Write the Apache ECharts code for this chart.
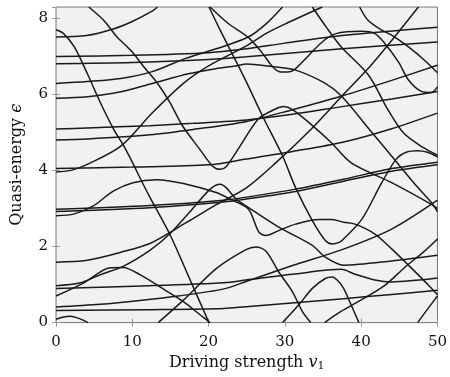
<!DOCTYPE html>
<html><head><meta charset="utf-8">
<script src="https://cdn.jsdelivr.net/npm/echarts@6/dist/echarts.min.js"></script>
<style>html,body{margin:0;padding:0;background:#fff}#c{width:450px;height:377px}</style>
</head><body><div id="c"></div>
<script>
// x-axis tick labels and y-axis tick labels
const xTicks = [0, 10, 20, 30, 40, 50];
const yTicks = [0, 2, 4, 6, 8];
const yMax = 8.3;

// traced quasi-energy curves: [driving strength, quasi-energy]
const L1a = [[0,7.51],[4,7.55],[7.6,7.73],[10,7.92],[12.6,8.19],[13.3,8.3]];
const L1b = [[13.4,0],[16.7,0.59],[21,1.42],[24.9,1.92],[26.2,1.99],[27.5,1.88],[29.2,1.33],[31,0.81],[32.3,0.29],[33.4,0]];
const L1c = [[33.6,8.3],[35.5,7.75],[37.4,7.25],[41,6.5],[43.5,5.6],[45.5,5.0],[48,4.62],[50,4.4]];
const A1 = [[0,7.7],[1,7.6],[2.4,7.25],[4.1,6.55],[5.85,5.77],[7.6,5.07],[8.9,4.64],[10.1,4.18],[11.1,3.77],[12.3,3.3],[14.9,2.33],[17.5,1.16],[20.05,0]];
const A2 = [[20.05,8.3],[21.5,7.7],[23.4,6.95],[24.9,6.35],[27.1,5.42],[29.7,4.38],[31.4,3.55],[33.6,2.68],[35.3,2.16],[36.2,2.07],[37.1,2.11],[37.7,2.2],[40.1,2.72],[42.7,3.68],[44.6,4.3],[45.9,4.48],[47.4,4.52],[48.7,4.48],[50,4.36]];
const D1 = [[4.3,8.3],[6.3,7.94],[8.0,7.51],[9.8,7.16],[11.5,6.73],[13.2,6.32],[14.9,5.8],[16.6,5.17],[18.8,4.57],[20.5,4.12],[21.5,4.03],[22.3,4.1],[24,4.6],[26.5,5.35],[28.7,5.61],[29.8,5.68],[31,5.6],[33.5,5.2],[36,4.75],[38.7,4.2],[44,3.68],[49.2,3.11],[50,3.0]];
const B1 = [[0,7.0],[10,7.03],[20,7.1],[25,7.2],[30,7.35],[37.5,7.55],[50,7.77]];
const C1 = [[0,6.81],[10,6.84],[20,6.92],[25,6.99],[37.5,7.2],[50,7.38]];
const S6a = [[0,6.29],[4.1,6.34],[8.5,6.42],[12.6,6.6],[17,6.95],[21,7.2],[25.2,7.51],[27.5,7.85],[29.7,8.3]];
const S6b = [[29.7,0],[31.8,0.46],[33.6,0.9],[35.3,1.16],[36.2,1.2],[37.1,1.07],[37.7,0.9],[38.5,0.55],[39.7,0]];
const S6c = [[39.8,8.3],[40.9,7.95],[42.7,7.69],[44,7.56],[46.2,7.25],[48.3,6.9],[50,6.57]];
const S7 = [[0,5.9],[4.1,5.94],[8.5,6.07],[12.6,6.29],[17.5,6.55],[21,6.68],[23.5,6.75],[25,6.8],[28,6.74],[31.4,6.64],[35.3,6.29],[37.5,5.94],[41,5.1],[44.9,4.16],[47,3.65],[49.2,3.16],[50,2.92]];
const HB = [[20.2,8.3],[22.5,7.88],[25.2,7.5],[27,7.1],[28.3,6.75],[29.3,6.6],[30.4,6.59],[31.3,6.66],[33,7.0],[35,7.4],[36.7,7.6],[40,7.66],[41.8,7.6],[43.1,7.34],[44.9,6.85],[46.2,6.38],[47.9,6.08],[49.2,6.05],[50,6.2]];
const S8 = [[0,5.09],[4.1,5.12],[12.3,5.18],[18,5.24],[25,5.33],[31,5.48],[37.5,5.68],[44,5.88],[50,6.08]];
const S9 = [[0,4.8],[4.1,4.83],[12.3,4.94],[18,5.08],[25,5.29],[31,5.6],[37.5,5.96],[44,6.37],[50,6.77]];
const S10a = [[0,3.96],[2.1,4.01],[4.1,4.16],[8.5,4.64],[12.6,5.51],[16.7,6.29],[20,6.75],[24.9,7.27],[27.5,7.6],[30.1,7.86],[34.9,8.3]];
const S10b = [[35.2,0],[37.4,0.3],[39.6,0.55],[43.1,0.98],[45.7,1.45],[48.3,1.88],[50,2.2]];
const F4 = [[0,4.05],[10,4.09],[20,4.15],[24.9,4.3],[31,4.5],[37.7,4.75],[44,5.1],[50,5.51]];
const R1a = [[0,1.59],[4.1,1.64],[8.5,1.85],[12.3,2.08],[17,2.62],[21,3.1],[25,3.55],[28.8,4.2],[33.5,5.1],[37.4,5.94],[41,6.7],[44,7.42],[47.5,8.3]];
const R1b = [[47.4,0],[48.8,0.38],[50,0.7]];
const P1 = [[0,2.98],[12.3,3.08],[21.9,3.22],[25,3.3],[31.4,3.51],[37.7,3.77],[44,4.05],[50,4.22]];
const P2 = [[0,2.92],[12.3,3.02],[21.9,3.17],[25,3.25],[31.4,3.45],[37.7,3.72],[44,3.98],[50,4.15]];
const H1 = [[0,2.81],[2.4,2.86],[4.9,3.07],[7.5,3.46],[10.1,3.68],[13.2,3.76],[16.7,3.66],[21,3.42],[22.8,3.25],[25.2,2.99],[26.6,2.38],[27.5,2.29],[29.2,2.42],[31.4,2.59],[34.5,2.71],[36.2,2.71],[37.7,2.64],[39.2,2.59],[41.8,2.33],[44,1.94],[46.2,1.51],[48.8,0.99],[50,0.73]];
const K1 = [[0,0.97],[3.1,1.04],[5.8,1.26],[8.8,1.48],[12.3,1.9],[14.9,2.33],[17.5,2.9],[20.2,3.51],[21.5,3.64],[22.3,3.55],[23.6,3.25],[24.9,3.07],[29.2,2.51],[33.6,2.03],[35.3,1.72],[37.7,1.51],[44,1.62],[50,1.77]];
const H2 = [[0,0.7],[3.6,1.04],[7.1,1.44],[8.8,1.45],[11,1.26],[14.5,0.83],[16.7,0.55],[18.8,0.22],[20.2,0]];
const F09 = [[0,0.9],[12.3,0.97],[22,1.05],[24.9,1.12],[31,1.27],[37.4,1.4],[39.2,1.27],[41.8,1.12],[44,1.07],[50,1.17]];
const R04 = [[0,0.41],[5.8,0.48],[11,0.58],[16,0.7],[21.9,0.88],[24.9,1.08],[31,1.5],[37.5,1.92],[44,2.46],[50,3.22]];
const F03 = [[0,0.32],[12.3,0.34],[22,0.37],[24.9,0.42],[37.7,0.63],[44,0.74],[50,0.85]];
const BUMP = [[0,0.09],[1,0.15],[1.9,0.17],[3,0.11],[4.2,0]];

const curves = [L1a,L1b,L1c,A1,A2,D1,B1,C1,S6a,S6b,S6c,S7,HB,S8,S9,S10a,S10b,F4,R1a,R1b,P1,P2,H1,K1,H2,F09,R04,F03,BUMP];

const chart = echarts.init(document.getElementById('c'), null, {renderer:'canvas'});
const font = 'DejaVu Serif';
const tickStyle = {show:true, inside:true, length:4, lineStyle:{color:'#999', width:1}};
chart.setOption({
  animation:false,
  grid:{left:56, right:11, top:7, bottom:52, show:true, backgroundColor:'#f1f1f1', borderColor:'#777', borderWidth:1},
  xAxis:[{
    type:'value', min:xTicks[0], max:xTicks[xTicks.length-1], interval:10,
    name:'{n|Driving strength }{i|v}{s|1}', nameLocation:'middle', nameGap:29,
    nameTextStyle:{rich:{n:{fontFamily:font,fontSize:16,color:'#111'},i:{fontFamily:font,fontStyle:'italic',fontSize:16,color:'#111'},s:{fontFamily:font,fontSize:11,color:'#111',padding:[8,0,0,0]}}},
    axisLine:{show:false}, axisTick:tickStyle, splitLine:{show:false},
    axisLabel:{fontFamily:font, fontSize:15, color:'#111', margin:12}
  },{
    type:'value', position:'top', min:0, max:50, interval:10,
    axisLine:{show:false}, axisTick:tickStyle, axisLabel:{show:false}, splitLine:{show:false}
  }],
  yAxis:[{
    type:'value', min:0, max:yMax, interval:2,
    name:'{n|Quasi-energy }{i|ϵ}', nameLocation:'middle', nameGap:31, nameRotate:90,
    nameTextStyle:{rich:{n:{fontFamily:font,fontSize:16,color:'#111'},i:{fontFamily:font,fontStyle:'italic',fontSize:16,color:'#111'}}},
    axisLine:{show:false}, axisTick:tickStyle, splitLine:{show:false},
    axisLabel:{fontFamily:font, fontSize:15, color:'#111', margin:8, showMaxLabel:false,
      formatter:v=>yTicks.includes(v)?String(v):''}
  },{
    type:'value', position:'right', min:0, max:yMax, interval:2,
    axisLine:{show:false}, axisTick:tickStyle, axisLabel:{show:false}, splitLine:{show:false}
  }],
  series: curves.map(d=>({
    type:'line', data:d, showSymbol:false, symbol:'none', smooth:0.3,
    clip:true, silent:true, lineStyle:{color:'#1a1a1a', width:1.5}
  }))
});
</script></body></html>
